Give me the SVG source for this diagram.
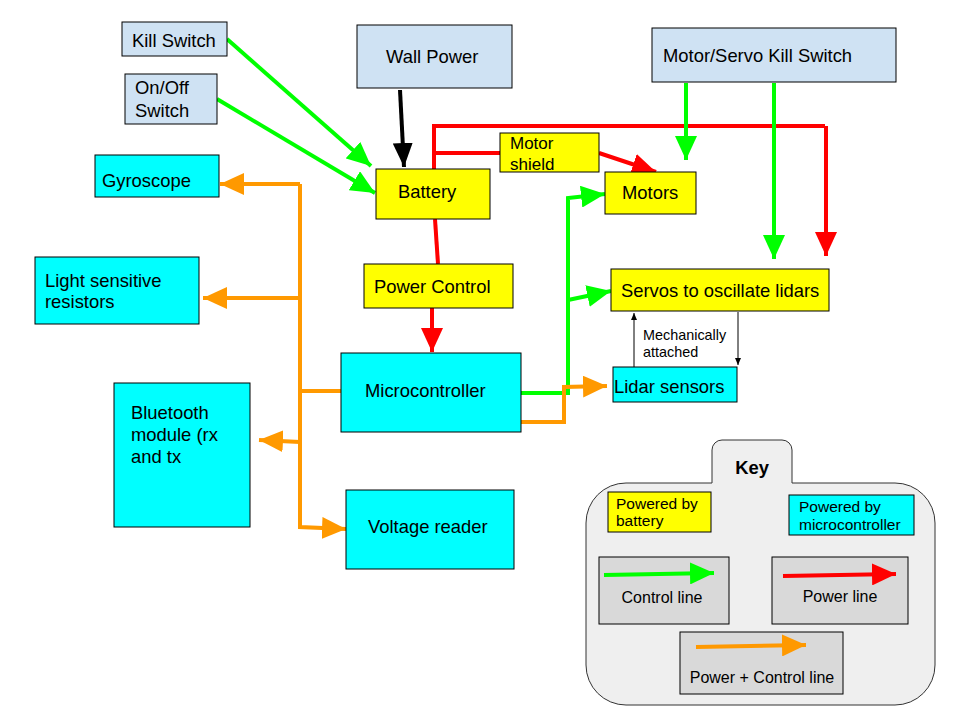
<svg xmlns="http://www.w3.org/2000/svg" width="960" height="720" viewBox="0 0 960 720">
<style>
text{font-family:"Liberation Sans",Arial,sans-serif;font-size:18.4px;fill:#000}
.gray{fill:#cfe2f3;stroke:#000;stroke-width:1}
.yel{fill:#ffff00;stroke:#000;stroke-width:1}
.cyan{fill:#00ffff;stroke:#000;stroke-width:1}
.kbox{fill:#d9d9d9;stroke:#000;stroke-width:1}
.g{stroke:#00ff00;stroke-width:4;fill:none}
.r{stroke:#ff0000;stroke-width:4;fill:none}
.o{stroke:#ff9900;stroke-width:4;fill:none}
.k{stroke:#000;stroke-width:4;fill:none}
.thin{stroke:#000;stroke-width:1;fill:none}
.ms{font-size:17px}
.sm{font-size:15.5px}
.kl{font-size:16px}
.xs{font-size:14.4px}
</style>
<defs>
<marker id="ag" markerUnits="userSpaceOnUse" markerWidth="26" markerHeight="22" refX="24" refY="11" orient="auto"><path d="M0,0 L24,11 L0,22 z" fill="#00ff00"/></marker>
<marker id="ar" markerUnits="userSpaceOnUse" markerWidth="26" markerHeight="22" refX="24" refY="11" orient="auto"><path d="M0,0 L24,11 L0,22 z" fill="#ff0000"/></marker>
<marker id="ao" markerUnits="userSpaceOnUse" markerWidth="26" markerHeight="22" refX="24" refY="11" orient="auto"><path d="M0,0 L24,11 L0,22 z" fill="#ff9900"/></marker>
<marker id="ak" markerUnits="userSpaceOnUse" markerWidth="26" markerHeight="22" refX="24" refY="10" orient="auto"><path d="M0,0 L24,10 L0,20 z" fill="#000"/></marker>
<marker id="at" markerUnits="userSpaceOnUse" markerWidth="8" markerHeight="6" refX="7" refY="3" orient="auto"><path d="M0,0 L7,3 L0,6 z" fill="#000"/></marker>
</defs>

<g id="connectors">
<line class="g" x1="227" y1="39" x2="371" y2="166" marker-end="url(#ag)"/>
<line class="g" x1="217" y1="99" x2="375" y2="193" marker-end="url(#ag)"/>
<line class="k" x1="400" y1="90" x2="404" y2="167" marker-end="url(#ak)"/>
<polyline class="r" points="434,169 434,126 825,126"/>
<line class="r" x1="826" y1="126" x2="826" y2="256" marker-end="url(#ar)"/>
<line class="r" x1="434" y1="153" x2="500" y2="153"/>
<line class="r" x1="599" y1="153" x2="656" y2="172" marker-end="url(#ar)"/>
<line class="g" x1="686" y1="83" x2="686" y2="160" marker-end="url(#ag)"/>
<line class="g" x1="774" y1="83" x2="774" y2="259" marker-end="url(#ag)"/>
<line class="r" x1="435" y1="219" x2="438" y2="264"/>
<line class="r" x1="432" y1="308" x2="432" y2="352" marker-end="url(#ar)"/>
<polyline class="g" points="521,393 568,393 568,198 605,194" marker-end="url(#ag)"/>
<polyline class="g" points="568,300 611,291" marker-end="url(#ag)"/>
<polyline class="o" points="521,422 564,422 564,387 607,386" marker-end="url(#ao)"/>
<polyline class="o" points="341,391 300,391"/>
<polyline class="o" points="300,184 300,527 346,529" marker-end="url(#ao)"/>
<polyline class="o" points="300,184 220,184" marker-end="url(#ao)"/>
<polyline class="o" points="300,298 203,298" marker-end="url(#ao)"/>
<polyline class="o" points="300,442 259,440" marker-end="url(#ao)"/>
<line class="thin" x1="634" y1="368" x2="634" y2="313" marker-end="url(#at)"/>
<line class="thin" x1="738" y1="312" x2="738" y2="365" marker-end="url(#at)"/>
<text class="xs" x="643" y="340">Mechanically</text>
<text class="xs" x="643" y="357">attached</text>
</g>

<g id="kill-switch"><rect class="gray" x="122" y="22" width="105" height="34"/><text x="132" y="47">Kill Switch</text></g>
<g id="onoff-switch"><rect class="gray" x="125" y="74" width="92" height="50"/><text x="135" y="94">On/Off</text><text x="135" y="117">Switch</text></g>
<g id="wall-power"><rect class="gray" x="357" y="25" width="155" height="63"/><text x="386" y="63">Wall Power</text></g>
<g id="motor-servo-kill"><rect class="gray" x="652" y="28" width="244" height="54"/><text x="663" y="62">Motor/Servo Kill Switch</text></g>
<g id="battery"><rect class="yel" x="376" y="169" width="114" height="50"/><text x="398" y="198">Battery</text></g>
<g id="motor-shield"><rect class="yel" x="500" y="133" width="99" height="39"/><text class="ms" x="510" y="149">Motor</text><text class="ms" x="510" y="170">shield</text></g>
<g id="motors"><rect class="yel" x="605" y="172" width="91" height="42"/><text x="622" y="199">Motors</text></g>
<g id="gyroscope"><rect class="cyan" x="95" y="155" width="124" height="42"/><text x="102" y="187">Gyroscope</text></g>
<g id="lsr"><rect class="cyan" x="35" y="257" width="164" height="67"/><text x="45" y="287">Light sensitive</text><text x="45" y="308">resistors</text></g>
<g id="bluetooth"><rect class="cyan" x="114" y="383" width="136" height="144"/><text x="131" y="419">Bluetooth</text><text x="131" y="441">module (rx</text><text x="131" y="463">and tx</text></g>
<g id="power-control"><rect class="yel" x="364" y="264" width="149" height="44"/><text x="374" y="293">Power Control</text></g>
<g id="microcontroller"><rect class="cyan" x="341" y="353" width="180" height="79"/><text x="365" y="397">Microcontroller</text></g>
<g id="servos"><rect class="yel" x="611" y="269" width="218" height="42"/><text x="621" y="297">Servos to oscillate lidars</text></g>
<g id="lidar"><rect class="cyan" x="613" y="367" width="124" height="35"/><text x="614" y="393">Lidar sensors</text></g>
<g id="voltage-reader"><rect class="cyan" x="346" y="490" width="168" height="79"/><text x="368" y="533">Voltage reader</text></g>

<g id="key">
<path d="M586,523 A40,40 0 0 1 626,483 L712,483 L712,450 A10,10 0 0 1 722,440 L782,440 A10,10 0 0 1 792,450 L792,483 L895,483 A40,40 0 0 1 935,523 L935,665 A40,40 0 0 1 895,705 L626,705 A40,40 0 0 1 586,665 Z" fill="#efefef" stroke="#333" stroke-width="1"/>
<text x="752" y="474" text-anchor="middle" style="font-weight:bold">Key</text>
<rect class="yel" x="608" y="492" width="103" height="40"/>
<text class="sm" x="616" y="509">Powered by</text><text class="sm" x="616" y="526">battery</text>
<rect class="cyan" x="789" y="495" width="125" height="40"/>
<text class="sm" x="799" y="512">Powered by</text><text class="sm" x="799" y="530">microcontroller</text>
<rect class="kbox" x="599" y="557" width="130" height="67"/>
<line class="g" x1="604" y1="575" x2="714" y2="573" marker-end="url(#ag)"/>
<text class="kl" x="662" y="603" text-anchor="middle">Control line</text>
<rect class="kbox" x="772" y="557" width="136" height="67"/>
<line class="r" x1="783" y1="576" x2="896" y2="574" marker-end="url(#ar)"/>
<text class="kl" x="840" y="602" text-anchor="middle">Power line</text>
<rect class="kbox" x="680" y="632" width="163" height="62"/>
<line class="o" x1="696" y1="647" x2="806" y2="645" marker-end="url(#ao)"/>
<text class="kl" x="762" y="683" text-anchor="middle">Power + Control line</text>
</g>
</svg>
